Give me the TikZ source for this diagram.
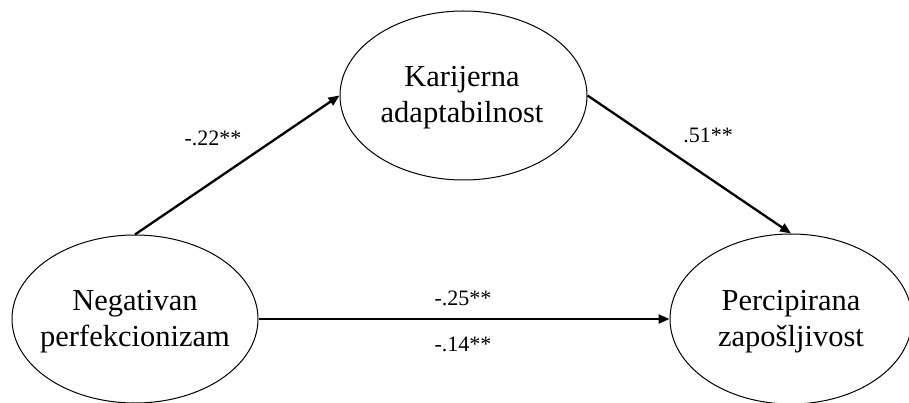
\documentclass[tikz,border=0pt]{standalone}
\usepackage{fontspec}
\setmainfont{Liberation Serif}
\usetikzlibrary{shapes.geometric,arrows.meta}
\begin{document}
\begin{tikzpicture}[x=1pt,y=-1pt,
  latent/.style={ellipse, draw, line width=1pt, inner sep=0pt},
  nodetext/.style={font=\fontsize{30.5}{36}\selectfont, align=center},
  coef/.style={font=\fontsize{22}{26}\selectfont, inner sep=0pt},
  path/.style={line width=2.3pt, -{Triangle[length=11pt,width=9pt]}}]
\useasboundingbox (0,0) rectangle (909,403);
\node[latent, minimum width=247pt, minimum height=169pt] (ka) at (463.5,95.5) {};
\node[nodetext] (kat) at (462,98) {Karijerna\\adaptabilnost};
\node[latent, minimum width=246pt, minimum height=168pt] (np) at (135,319) {};
\node[nodetext] (npt) at (135,322) {Negativan\\perfekcionizam};
\node[latent, minimum width=242pt, minimum height=170pt] (pz) at (791,319) {};
\node[nodetext] (pzt) at (791,322) {Percipirana\\zapošljivost};
\draw[path] (np.north) -- (ka.west);
\draw[path] (ka.east) -- (pz.north);
\draw[path] (np.east) -- (pz.west);
\node[coef] (c1) at (213,138) {-.22**};
\node[coef] (c2) at (708,135) {.51**};
\node[coef] (c3) at (463,298) {-.25**};
\node[coef] (c4) at (463,344) {-.14**};
\end{tikzpicture}
\end{document}
